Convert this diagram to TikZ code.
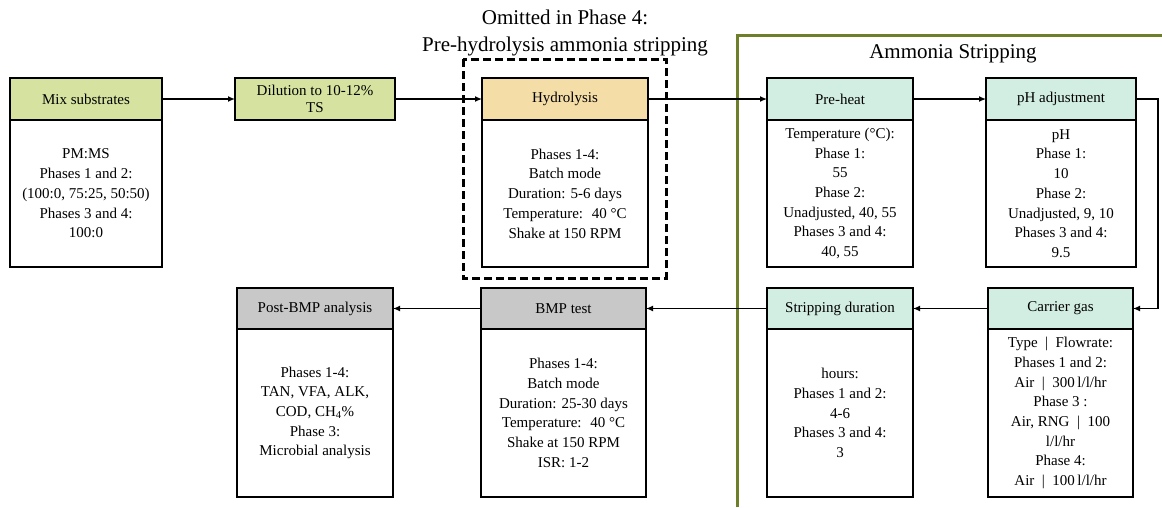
\documentclass[tikz,border=0pt]{standalone}
\usepackage{fontspec}
\setmainfont{Liberation Serif}
\usetikzlibrary{arrows.meta,positioning}

\definecolor{mixgreen}{RGB}{214,227,160}
\definecolor{hydtan}{RGB}{245,221,168}
\definecolor{stripmint}{RGB}{210,238,226}
\definecolor{bmpgray}{RGB}{200,200,200}
\definecolor{framegreen}{RGB}{110,127,42}

\tikzset{
  txt/.style={font=\fontsize{15}{19.7}\selectfont, align=center},
  hdr/.style={txt, draw=black, line width=2pt, inner sep=2pt, outer sep=0pt,
              minimum height=42pt},
  bodybox/.style={txt, draw=black, line width=2pt, fill=white, inner sep=2pt,
                  outer sep=0pt, anchor=north},
  conn/.style={-{Latex[length=7pt,width=6pt]}, line width=1.3pt},
  titletxt/.style={font=\fontsize{21}{27}\selectfont, align=center}
}

\begin{document}
\begin{tikzpicture}[x=1pt,y=-1pt]
\useasboundingbox (0,0) rectangle (1162,507);

% ammonia stripping frame
\draw[framegreen, line width=3pt] (737,507) |- (1162,35);
\node[titletxt] (amtitle) at (953,54) {Ammonia Stripping};

% note above the hydrolysis step
\node[titletxt] (omit) at (565,33) {Omitted in Phase 4:\\Pre-hydrolysis ammonia stripping};
\draw[line width=3pt, dash pattern=on 8pt off 4pt] (463,59) rectangle (666,278);

% upper row
\node[hdr, fill=mixgreen, minimum width=152pt] (mixH) at (86,99) {Mix substrates};
\node[bodybox, minimum width=152pt, minimum height=147pt] (mixB) at (mixH.south)
  {PM:MS\\Phases 1 and 2:\\(100:0, 75:25, 50:50)\\Phases 3 and 4:\\100:0};

\node[hdr, fill=mixgreen, minimum width=160pt] (dilH) at (315,99) {Dilution to 10-12\%\\[-2pt]TS};

\node[hdr, fill=hydtan, minimum width=166pt] (hydH) at (565,99) {Hydrolysis};
\node[bodybox, minimum width=166pt, minimum height=147pt] (hydB) at (hydH.south)
  {Phases 1-4:\\Batch mode\\Duration: 5-6 days\\Temperature:~ 40 °C\\Shake at 150 RPM};

\node[hdr, fill=stripmint, minimum width=146pt] (preH) at (840,99) {Pre-heat};
\node[bodybox, minimum width=146pt, minimum height=147pt] (preB) at (preH.south)
  {Temperature (°C):\\Phase 1:\\55\\Phase 2:\\Unadjusted, 40, 55\\Phases 3 and 4:\\40, 55};

\node[hdr, fill=stripmint, minimum width=150pt] (phH) at (1061,99) {pH adjustment};
\node[bodybox, minimum width=150pt, minimum height=147pt] (phB) at (phH.south)
  {pH\\Phase 1:\\10\\Phase 2:\\Unadjusted, 9, 10\\Phases 3 and 4:\\9.5};

% lower row
\node[hdr, fill=stripmint, minimum width=145pt, minimum height=41pt] (carH) at (1060.5,308.5) {Carrier gas};
\node[bodybox, minimum width=145pt, minimum height=168pt] (carB) at (carH.south)
  {Type ~|~ Flowrate:\\Phases 1 and 2:\\Air ~|~ 300\,l/l/hr\\Phase 3 :\\Air, RNG ~|~ 100\\l/l/hr\\Phase 4:\\Air ~|~ 100\,l/l/hr};

\node[hdr, fill=stripmint, minimum width=146pt, minimum height=41pt] (strH) at (840,308.5) {Stripping duration};
\node[bodybox, minimum width=146pt, minimum height=168pt] (strB) at (strH.south)
  {hours:\\Phases 1 and 2:\\4-6\\Phases 3 and 4:\\3};

\node[hdr, fill=bmpgray, minimum width=165pt, minimum height=41pt] (bmpH) at (563.5,308.5) {BMP test};
\node[bodybox, minimum width=165pt, minimum height=168pt] (bmpB) at (bmpH.south)
  {Phases 1-4:\\Batch mode\\Duration: 25-30 days\\Temperature:~ 40 °C\\Shake at 150 RPM\\ISR: 1-2};

\node[hdr, fill=bmpgray, minimum width=156pt, minimum height=41pt] (postH) at (315,308.5) {Post-BMP analysis};
\node[bodybox, minimum width=156pt, minimum height=168pt] (postB) at (postH.south)
  {Phases 1-4:\\TAN, VFA, ALK,\\COD, CH\textsubscript{4}\%\\Phase 3:\\Microbial analysis};

% process flow
\draw[conn] (mixH.east) -- (dilH.west);
\draw[conn] (dilH.east) -- (hydH.west);
\draw[conn] (hydH.east) -- (preH.west);
\draw[conn] (preH.east) -- (phH.west);
\draw[conn] (phH.east) -- ++(22,0) |- (carH.east);
\draw[conn] (carH.west) -- (strH.east);
\draw[conn] (strH.west) -- (bmpH.east);
\draw[conn] (bmpH.west) -- (postH.east);
\end{tikzpicture}
\end{document}
